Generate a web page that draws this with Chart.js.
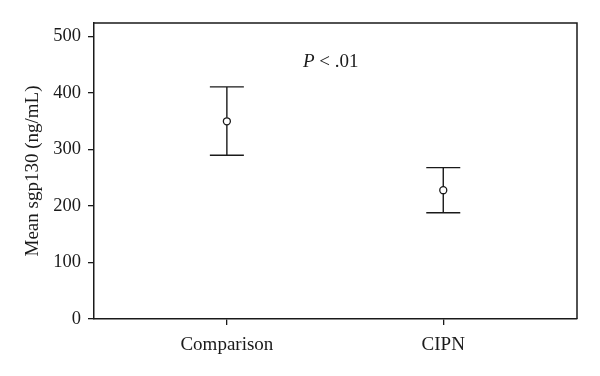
<!DOCTYPE html>
<html>
<head>
<meta charset="utf-8">
<script src="https://cdn.jsdelivr.net/npm/chart.js@4/dist/chart.umd.min.js"></script>
<style>
  html, body { margin: 0; padding: 0; background: #fff; }
  #wrap { width: 600px; height: 376px; position: relative; }
</style>
</head>
<body>
<div id="wrap"><canvas id="chart_sgp130"></canvas></div>
<script>
// data
var groups = ['Comparison', 'CIPN'];
var groupPos = [1, 2];
var meanValues = [350, 228];
var lowerValues = [290, 188];
var upperValues = [411, 268];
var yTicks = [0, 100, 200, 300, 400, 500];
var pLabel = ['P', ' < .01'];
var pLabelAt = [1.48, 455];

var FONT = '"Liberation Serif", "DejaVu Serif", serif';
var INK = '#1a1a1a';
var FS = 19;

var chart_sgp130 = new Chart(document.getElementById('chart_sgp130'), {
    type: 'scatter',
    data: {
        datasets: [
            {
                label: 'Mean sgp130',
                data: groupPos.map(function (x, i) { return { x: x, y: meanValues[i] }; }),
                pointStyle: 'circle',
                pointRadius: 3.5,
                pointBorderWidth: 1.3,
                pointBorderColor: INK,
                pointBackgroundColor: 'rgba(0,0,0,0)',
                showLine: false
            }
        ]
    },
    options: {
        animation: false,
        responsive: true,
        maintainAspectRatio: false,
        layout: {
            padding: { left: 0, right: 23, top: 23, bottom: 0 }
        },
        plugins: {
            legend: { display: false },
            tooltip: { enabled: false }
        },
        scales: {
            x: {
                type: 'linear',
                min: 0.386,
                max: 2.618,
                afterBuildTicks: function (scale) {
                    scale.ticks = groupPos.map(function (v) { return { value: v }; });
                },
                afterFit: function (scale) { scale.height = 57; },
                ticks: {
                    color: INK,
                    padding: 9,
                    font: { family: FONT, size: FS },
                    maxRotation: 0,
                    callback: function (value) {
                        var i = groupPos.indexOf(value);
                        return i >= 0 ? groups[i] : '';
                    }
                },
                grid: {
                    display: true,
                    drawOnChartArea: false,
                    drawTicks: true,
                    tickLength: 6,
                    color: INK,
                    lineWidth: 1.3
                },
                border: { display: true, color: INK, width: 1.5 }
            },
            y: {
                type: 'linear',
                min: 0,
                max: 524,
                afterBuildTicks: function (scale) {
                    scale.ticks = yTicks.map(function (v) { return { value: v }; });
                },
                afterFit: function (scale) { scale.width = 94; },
                title: {
                    display: true,
                    text: 'Mean sgp130 (ng/mL)',
                    color: INK,
                    font: { family: FONT, size: FS },
                    padding: { top: 22, bottom: 0 }
                },
                ticks: {
                    color: INK,
                    padding: 7,
                    font: { family: FONT, size: 18.5 }
                },
                grid: {
                    display: true,
                    drawOnChartArea: false,
                    drawTicks: true,
                    tickLength: 6,
                    color: INK,
                    lineWidth: 1.3
                },
                border: { display: true, color: INK, width: 1.5 }
            }
        }
    },
    plugins: [{
        id: 'whiteBackground',
        beforeDraw: function (chart) {
            var ctx = chart.ctx;
            ctx.save();
            ctx.fillStyle = 'white';
            ctx.fillRect(0, 0, chart.width, chart.height);
            ctx.restore();
        }
    }, {
        id: 'frameAndErrorBars',
        afterDatasetsDraw: function (chart) {
            var ctx = chart.ctx;
            var xs = chart.scales.x, ys = chart.scales.y;
            var area = chart.chartArea;
            ctx.save();
            // box around plot
            ctx.strokeStyle = INK;
            ctx.lineWidth = 1.5;
            ctx.beginPath();
            ctx.moveTo(area.left, area.top);
            ctx.lineTo(area.right, area.top);
            ctx.lineTo(area.right, area.bottom);
            ctx.stroke();
            // error bars
            ctx.lineWidth = 1.4;
            var cap = 17;
            groupPos.forEach(function (gx, i) {
                var px = xs.getPixelForValue(gx);
                var top = ys.getPixelForValue(upperValues[i]);
                var bot = ys.getPixelForValue(lowerValues[i]);
                var mid = ys.getPixelForValue(meanValues[i]);
                ctx.beginPath();
                ctx.moveTo(px, top); ctx.lineTo(px, mid - 3.5);
                ctx.moveTo(px, mid + 3.5); ctx.lineTo(px, bot);
                ctx.moveTo(px - cap, top); ctx.lineTo(px + cap, top);
                ctx.moveTo(px - cap, bot); ctx.lineTo(px + cap, bot);
                ctx.stroke();
            });
            // significance label
            var tx = xs.getPixelForValue(pLabelAt[0]);
            var ty = ys.getPixelForValue(pLabelAt[1]);
            ctx.fillStyle = INK;
            ctx.textBaseline = 'middle';
            ctx.font = 'italic ' + FS + 'px ' + FONT;
            var w1 = ctx.measureText(pLabel[0]).width;
            ctx.font = FS + 'px ' + FONT;
            var w2 = ctx.measureText(pLabel[1]).width;
            var start = tx - (w1 + w2) / 2;
            ctx.font = 'italic ' + FS + 'px ' + FONT;
            ctx.textAlign = 'left';
            ctx.fillText(pLabel[0], start, ty);
            ctx.font = FS + 'px ' + FONT;
            ctx.fillText(pLabel[1], start + w1, ty);
            ctx.restore();
        }
    }]
});
</script>
</body>
</html>
